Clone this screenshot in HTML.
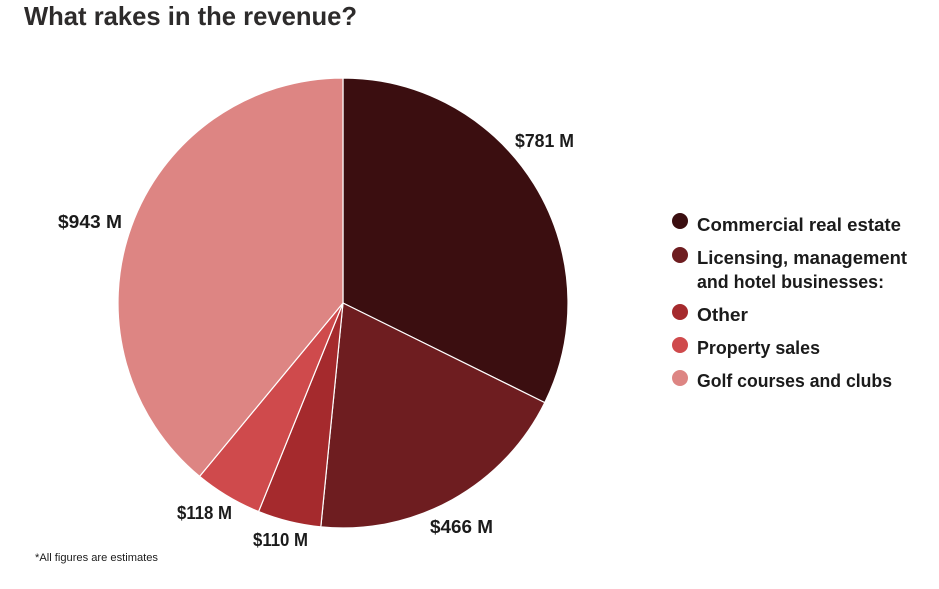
<!DOCTYPE html>
<html>
<head>
<meta charset="utf-8">
<style>
  html,body{margin:0;padding:0;background:#ffffff;}
  svg{display:block;}
  text{font-family:"Liberation Sans",sans-serif;}
</style>
</head>
<body>
<svg width="939" height="589" viewBox="0 0 939 589" xmlns="http://www.w3.org/2000/svg">
  <rect x="0" y="0" width="939" height="589" fill="#ffffff"/>
  <text x="24" y="25" font-size="26" font-weight="bold" fill="#2d2b2b" textLength="333" lengthAdjust="spacingAndGlyphs">What rakes in the revenue?</text>

  <g stroke="#ffffff" stroke-width="1.2" stroke-linejoin="round">
    <path d="M343,303 L343,78 A225,225 0 0 1 544.76,402.61 Z" fill="#3b0e10"/>
    <path d="M343,303 L544.76,402.61 A225,225 0 0 1 320.81,526.90 Z" fill="#6e1d20"/>
    <path d="M343,303 L320.81,526.90 A225,225 0 0 1 258.60,511.58 Z" fill="#a52a2d"/>
    <path d="M343,303 L258.60,511.58 A225,225 0 0 1 199.58,476.36 Z" fill="#cf4a4c"/>
    <path d="M343,303 L199.58,476.36 A225,225 0 0 1 343,78 Z" fill="#dd8583"/>
  </g>

  <g font-size="18" font-weight="bold" fill="#1b1b1b">
    <text x="515" y="147" textLength="59" lengthAdjust="spacingAndGlyphs">$781 M</text>
    <text x="58" y="228" textLength="64" lengthAdjust="spacingAndGlyphs">$943 M</text>
    <text x="430" y="533" textLength="63" lengthAdjust="spacingAndGlyphs">$466 M</text>
    <text x="177" y="519" textLength="55" lengthAdjust="spacingAndGlyphs">$118 M</text>
    <text x="253" y="546" textLength="55" lengthAdjust="spacingAndGlyphs">$110 M</text>
  </g>

  <circle cx="680" cy="221" r="8" fill="#3b0e10"/>
  <circle cx="680" cy="255" r="8" fill="#6e1d20"/>
  <circle cx="680" cy="312" r="8" fill="#a52a2d"/>
  <circle cx="680" cy="345" r="8" fill="#cf4a4c"/>
  <circle cx="680" cy="378" r="8" fill="#dd8583"/>

  <g font-size="18" fill="#1b1b1b" font-weight="bold">
    <text x="697" y="231" textLength="204" lengthAdjust="spacingAndGlyphs">Commercial real estate</text>
    <text x="697" y="264" textLength="210" lengthAdjust="spacingAndGlyphs">Licensing, management</text>
    <text x="697" y="288" textLength="187" lengthAdjust="spacingAndGlyphs">and hotel businesses:</text>
    <text x="697" y="321" textLength="51" lengthAdjust="spacingAndGlyphs">Other</text>
    <text x="697" y="354" textLength="123" lengthAdjust="spacingAndGlyphs">Property sales</text>
    <text x="697" y="387" textLength="195" lengthAdjust="spacingAndGlyphs">Golf courses and clubs</text>
  </g>

  <text x="35" y="561" font-size="11" fill="#1b1b1b" textLength="123" lengthAdjust="spacingAndGlyphs">*All figures are estimates</text>
</svg>
</body>
</html>
